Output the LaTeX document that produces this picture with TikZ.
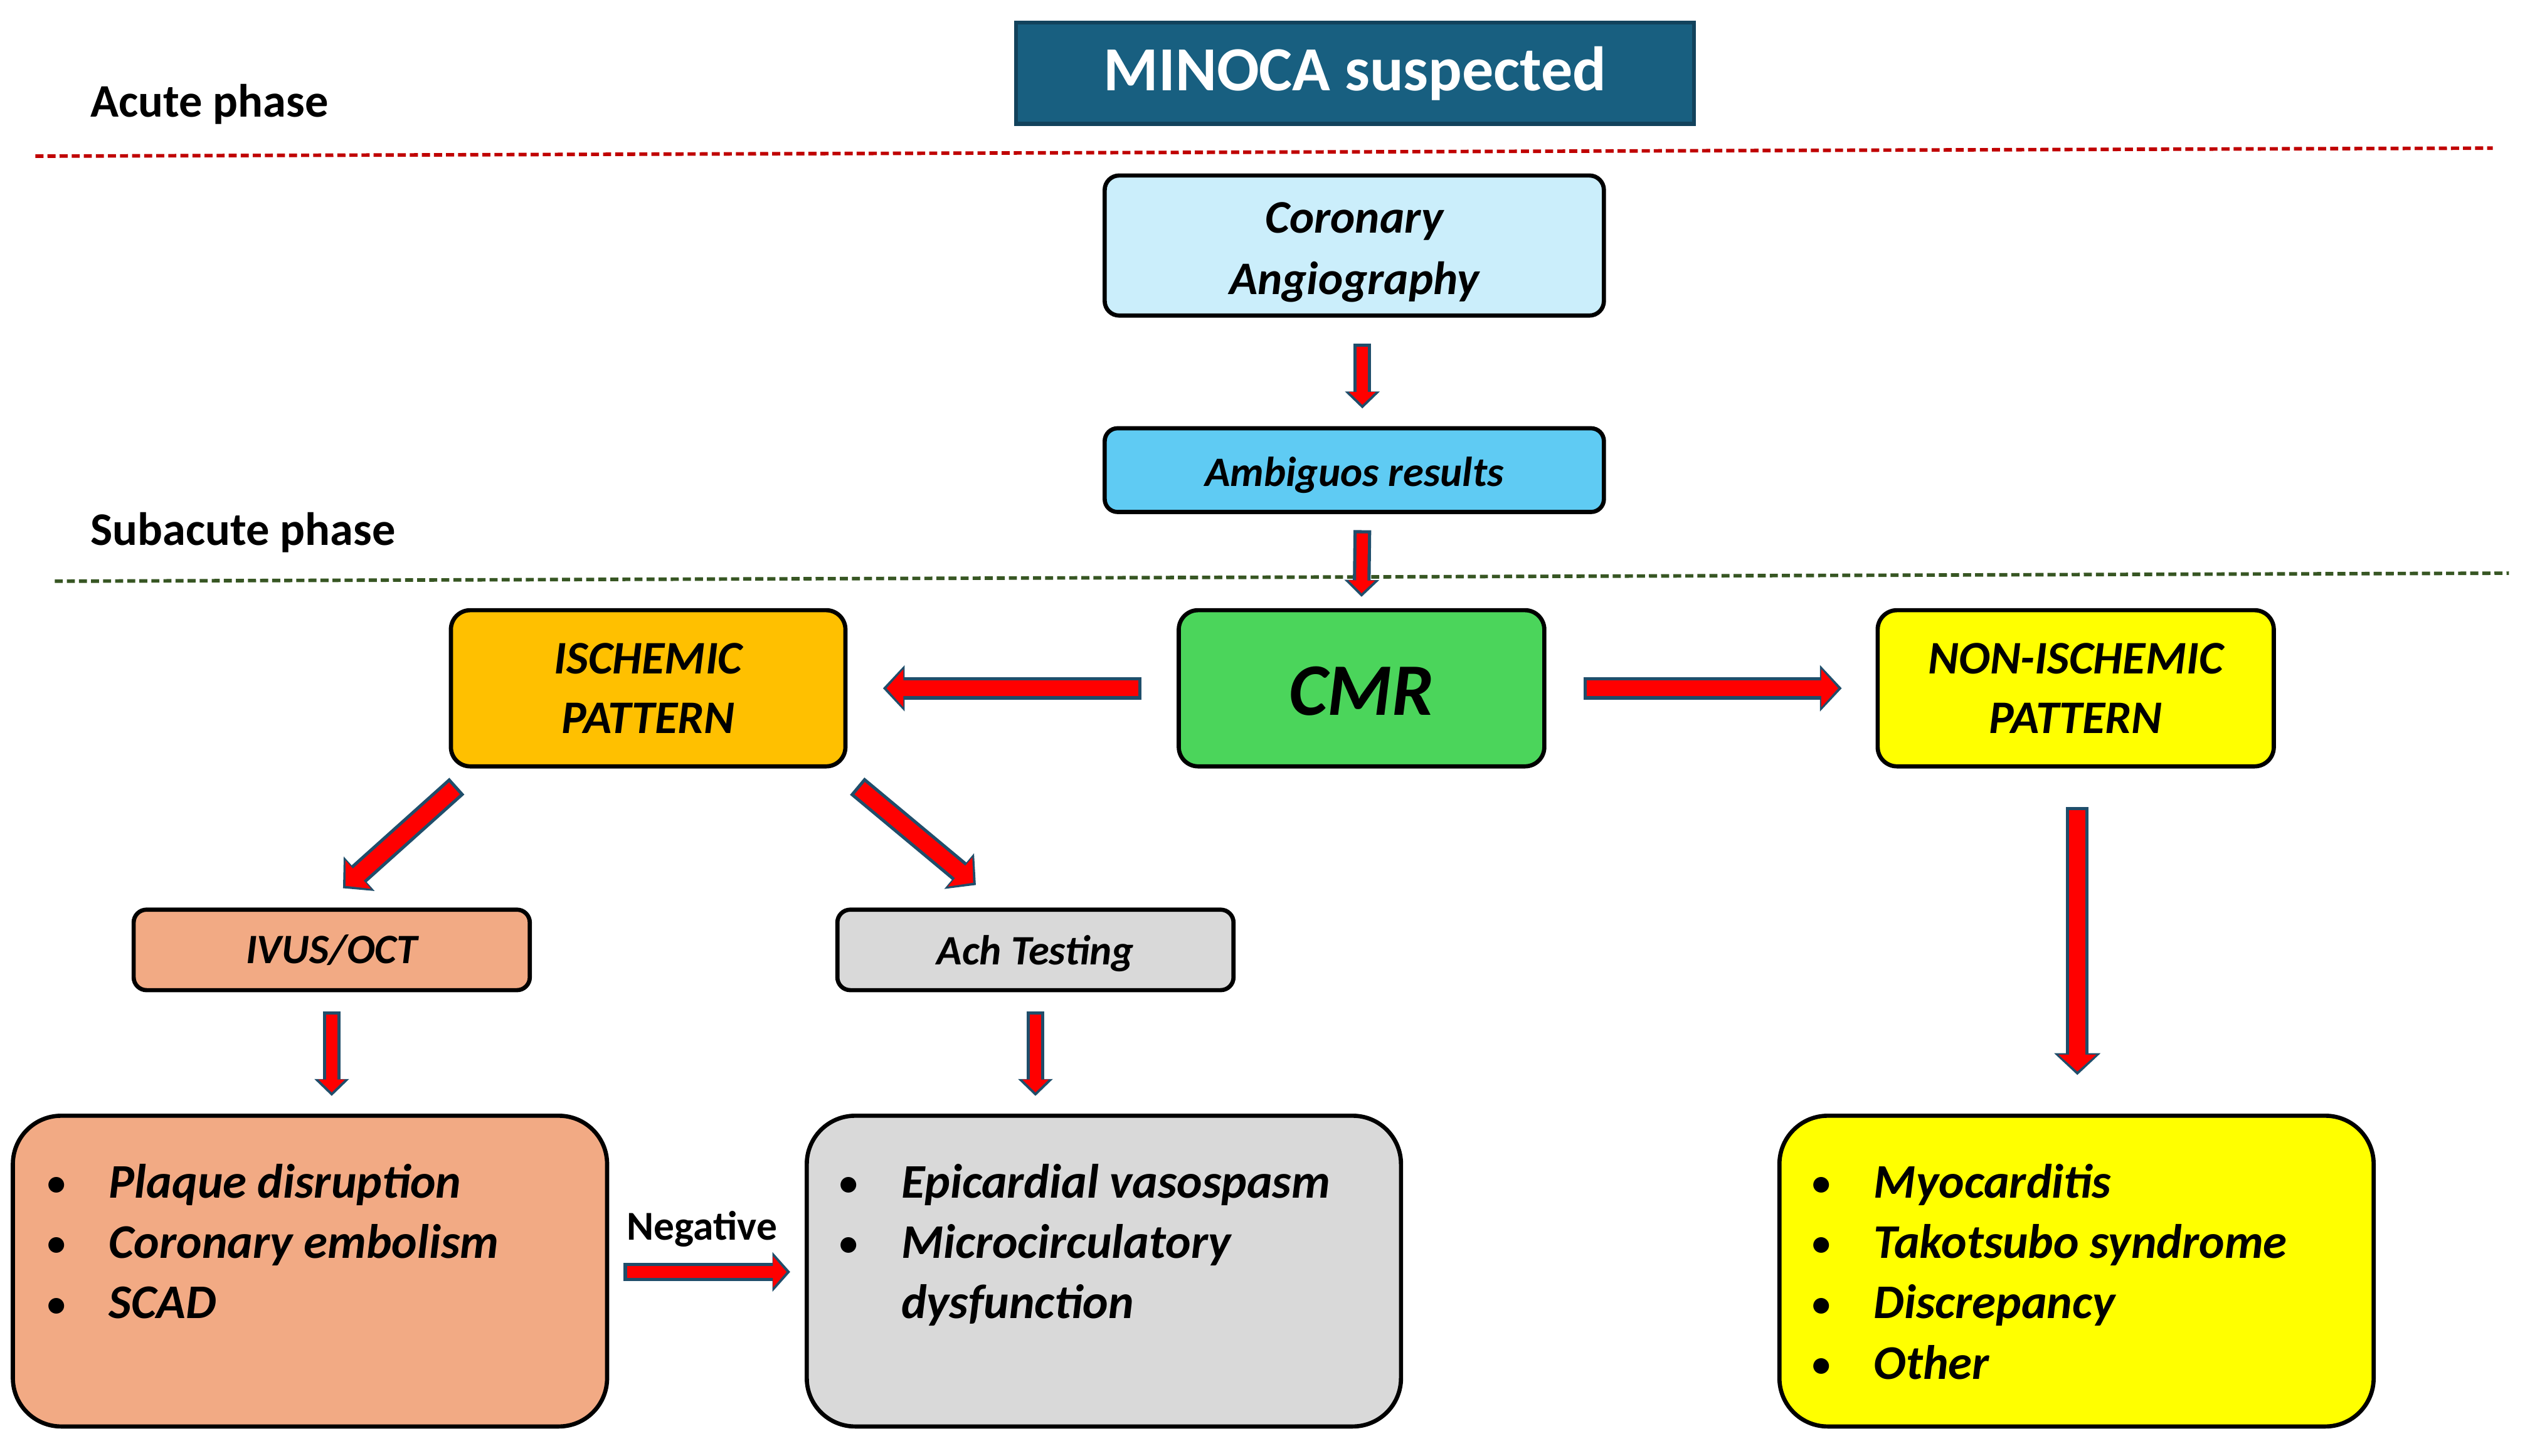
\documentclass[tikz,border=0pt]{standalone}
\usepackage{fontspec}
\setmainfont{Carlito}
\usetikzlibrary{arrows.meta,calc}
\definecolor{minoca}{HTML}{185F80}
\definecolor{minocaline}{HTML}{12425C}
\definecolor{corfill}{HTML}{CBEEFB}
\definecolor{ambfill}{HTML}{5FCBF3}
\definecolor{cmrfill}{HTML}{4BD55B}
\definecolor{ischfill}{HTML}{FFC000}
\definecolor{nonfill}{HTML}{FFFF00}
\definecolor{salmon}{HTML}{F2AA84}
\definecolor{greyfill}{HTML}{D9D9D9}
\definecolor{arrred}{HTML}{FF0000}
\definecolor{arrline}{HTML}{1F4E6B}
\definecolor{dashred}{HTML}{C00000}
\definecolor{dashgreen}{HTML}{375623}
\newcommand\myfs[2]{\fontsize{#1}{#2}\selectfont}
\tikzset{
  box/.style={draw=black, line width=2.6pt, rounded corners=#1, inner sep=0pt, align=center},
  blkarrow/.style n args={6}{line width=#1, draw=arrred, -{Triangle[length=#3,width=#2]},
     shorten >=2.2pt, shorten <=2pt,
     preaction={draw=arrline, line width=#4, -{Triangle[length=#6,width=#5]}, shorten >=0pt, shorten <=0pt}},
  blksmall/.style={blkarrow={7pt}{16pt}{8pt}{11pt}{21pt}{10.5pt}},
  blkmid/.style={blkarrow={10pt}{23pt}{10.5pt}{14pt}{28pt}{13.5pt}},
  blkneg/.style={blkarrow={7.5pt}{19pt}{8.5pt}{11.5pt}{24pt}{11pt}},
  item/.style={anchor=base west, inner sep=0pt, font=\myfs{30}{37}\bfseries\itshape},
  bul/.style={anchor=base, inner sep=0pt, font=\myfs{23}{30}\bfseries},
  phase/.style={anchor=base west, inner sep=0pt, font=\myfs{29}{35}\bfseries},
  dashline/.style={line width=2.2pt, dash pattern=on 5pt off 2.5pt},
}
\begin{document}
\begin{tikzpicture}[x=1pt,y=-1pt]
\fill[white] (0,0) rectangle (1568,904);
\useasboundingbox (0,0) rectangle (1568,904);

% phases and dashed separators
\node[phase] (acute) at (56,72.5) {Acute phase};
\node[phase] (subacute) at (56,338.5) {Subacute phase};
\coordinate (r1) at (22,97); \coordinate (r2) at (1548,92);
\coordinate (g1) at (34,361); \coordinate (g2) at (1558,356);
\draw[dashline, dashred] (r1) -- (r2);
\draw[dashline, dashgreen] (g1) -- (g2);

% nodes
\node[box=0pt, fill=minoca, draw=minocaline, line width=2.5pt, minimum width=421, minimum height=63,
      text=white, font=\myfs{39}{47}\bfseries] (minoca) at (841.5,45.5) {MINOCA suspected};
\node[box=9pt, fill=corfill, minimum width=310, minimum height=87,
      font=\myfs{29}{38}\bfseries\itshape] (cor) at (841,152.5) {\rule{0pt}{27.5pt}Coronary\\Angiography};
\node[box=8pt, fill=ambfill, minimum width=310, minimum height=52,
      font=\myfs{26}{32}\bfseries\itshape] (amb) at (841,292) {\rule{0pt}{24.5pt}Ambiguos results};
\node[box=12pt, fill=cmrfill, minimum width=227, minimum height=97,
      font=\myfs{46}{52}\bfseries\itshape] (cmr) at (845.5,427.5) {\rule{0pt}{33.6pt}CMR};
\node[box=12pt, fill=ischfill, minimum width=245, minimum height=97,
      font=\myfs{29}{37}\bfseries\itshape] (isch) at (402.5,427.5) {ISCHEMIC\\PATTERN};
\node[box=12pt, fill=nonfill, minimum width=246, minimum height=97,
      font=\myfs{29}{37}\bfseries\itshape] (non) at (1289,427.5) {NON-ISCHEMIC\\PATTERN};
\node[box=8pt, fill=salmon, minimum width=246, minimum height=50,
      font=\myfs{26}{32}\bfseries\itshape] (ivus) at (206,590) {IVUS/OCT};
\node[box=8pt, fill=greyfill, minimum width=246, minimum height=50,
      font=\myfs{26}{32}\bfseries\itshape] (ach) at (643,590) {\rule{0pt}{22.5pt}Ach Testing};
\node[box=30pt, fill=salmon, minimum width=369, minimum height=193] (bl) at (192.5,789.5) {};
\node[box=30pt, fill=greyfill, minimum width=369, minimum height=193] (bm) at (685.5,789.5) {};
\node[box=30pt, fill=nonfill, minimum width=369, minimum height=193] (br) at (1289.5,789.5) {};

% bullet lists
\node[bul] (bl1b) at (35,742.5) {•}; \node[item] (bl1) at (67.5,744) {Plaque disruption};
\node[bul] (bl2b) at (35,780) {•};   \node[item] (bl2) at (67.5,781.5) {Coronary embolism};
\node[bul] (bl3b) at (35,817.5) {•}; \node[item] (bl3) at (67.5,819) {SCAD};

\node[bul] (bm1b) at (527,742.5) {•}; \node[item] (bm1) at (559.5,744) {Epicardial vasospasm};
\node[bul] (bm2b) at (527,780) {•};   \node[item] (bm2) at (559.5,781.5) {Microcirculatory};
\node[item] (bm3) at (559.5,819) {dysfunction};

\node[bul] (br1b) at (1131,742.5) {•}; \node[item] (br1) at (1163.5,744) {Myocarditis};
\node[bul] (br2b) at (1131,780) {•};   \node[item] (br2) at (1163.5,781.5) {Takotsubo syndrome};
\node[bul] (br3b) at (1131,817.5) {•}; \node[item] (br3) at (1163.5,819) {Discrepancy};
\node[bul] (br4b) at (1131,855) {•};   \node[item] (br4) at (1163.5,856.5) {Other};

% connectors
\draw[blksmall] ($(cor.south)+(5,16)$) -- ($(amb.north)+(5,-11)$);
\draw[blksmall] ($(amb.south)+(5,10)$) -- ($(cmr.north)+(0,-7)$);
\draw[blkmid] ($(cmr.west)+(-22,0)$) -- ($(isch.east)+(22,0)$);
\draw[blkmid] ($(cmr.east)+(23,0)$) -- ($(non.west)+(-21,0)$);
\draw[blkmid] ($(isch.south west)+(5,11)$) -- ($(ivus.north)+(7,-12)$);
\draw[blkmid] ($(isch.south east)+(6,11)$) -- ($(ach.north)+(-37,-14)$);
\draw[blksmall] ($(ivus.south)+(0,12)$) -- ($(bl.north)+(13.5,-11)$);
\draw[blksmall] ($(ach.south)+(0,12)$) -- ($(bm.north)+(-42.5,-11)$);
\draw[blkmid] ($(non.south)+(1,24)$) -- ($(br.north)+(0.5,-24)$);
\draw[blkneg] ($(bl.east)+(9,0.5)$) -- ($(bm.west)+(-9,0.5)$);
\node[anchor=base, inner sep=0pt, font=\myfs{25.5}{30}\bfseries] (neg) at (436,770) {Negative};
\end{tikzpicture}
\end{document}
